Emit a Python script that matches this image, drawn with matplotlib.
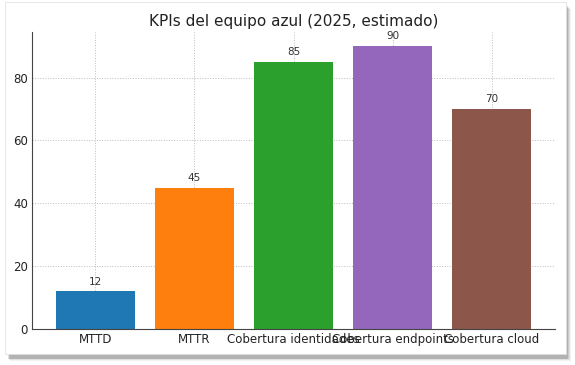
import matplotlib.pyplot as plt
from matplotlib.patches import Rectangle

kpis = ["MTTD", "MTTR", "Cobertura identidades", "Cobertura endpoints", "Cobertura cloud"]
valores = [12, 45, 85, 90, 70]
colores = ["#1f77b4", "#ff7f0e", "#2ca02c", "#9467bd", "#8c564b"]

fig = plt.figure(figsize=(5.75, 3.65), dpi=100)

# sombra del recuadro
for i, a in enumerate([0.05, 0.07, 0.09, 0.12]):
    off = (4 - i) * 0.0015
    fig.patches.append(Rectangle((0.012 + off, 0.02 - off * 1.6), 0.975, 0.965,
                                 transform=fig.transFigure, facecolor="black",
                                 edgecolor="none", alpha=a, zorder=-3))
fig.patches.append(Rectangle((0.008, 0.03), 0.977, 0.965, transform=fig.transFigure,
                             facecolor="white", edgecolor="#dddddd", lw=0.5, zorder=-2))

ax = fig.add_axes([32 / 575, 1 - 329 / 365, (555 - 32) / 575, (329 - 32) / 365])
ax.set_zorder(2)
ax.set_facecolor("none")
bars = ax.bar(kpis, valores, color=colores, width=0.8, zorder=2)
for b, v in zip(bars, valores):
    ax.text(b.get_x() + b.get_width() / 2, v + 1.5, str(v), ha="center", va="bottom",
            fontsize=7.5, color="#333333")

ax.set_title("KPIs del equipo azul (2025, estimado)", fontsize=11, color="#222222", pad=4)
ax.grid(True, linestyle=":", color="#bbbbbb", linewidth=0.7, zorder=0)
ax.set_axisbelow(True)
ax.spines["top"].set_visible(False)
ax.spines["right"].set_visible(False)
ax.spines["left"].set_color("#444444")
ax.spines["bottom"].set_color("#444444")
ax.tick_params(axis="both", length=0, labelsize=8.5, colors="#222222", pad=3)

fig.savefig("out.png", dpi=100)
